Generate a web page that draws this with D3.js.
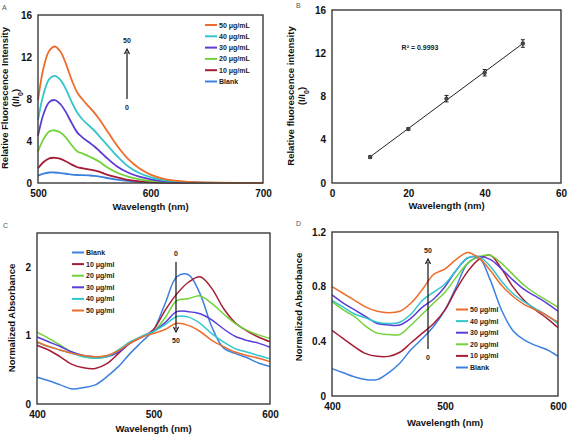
<!DOCTYPE html>
<html><head><meta charset="utf-8">
<script src="https://cdn.jsdelivr.net/npm/d3@7"></script>
<style>
body{margin:0;background:#fff;}
svg text{font-family:"Liberation Sans",Arial,sans-serif;}
</style></head>
<body><svg id="c" width="567" height="435"></svg>
<script>
// ---------- Panel A data ----------
const wlA = [500,505,510,515,520,525,530,535,540,545,550,555,560,570,580,590,600,610,620,640,660,680,700];
const A_blank = [0.7,0.9,1.0,1.0,0.95,0.88,0.8,0.76,0.75,0.72,0.68,0.6,0.5,0.33,0.2,0.12,0.07,0.04,0.02,0.01,0,0,0];
const A_10 = [1.4,2.0,2.35,2.4,2.3,2.05,1.75,1.5,1.4,1.3,1.2,1.05,0.85,0.55,0.3,0.15,0.08,0.04,0.02,0.01,0,0,0];
const A_20 = [3.0,4.2,4.9,5.0,4.8,4.3,3.6,3.0,2.8,2.55,2.3,2.0,1.6,1.0,0.6,0.35,0.2,0.1,0.06,0.02,0.01,0,0];
const A_30 = [4.5,6.6,7.7,7.9,7.5,6.7,5.7,4.8,4.3,3.9,3.5,3.0,2.5,1.6,1.0,0.6,0.35,0.2,0.1,0.03,0.01,0,0];
const A_40 = [6.0,8.5,9.9,10.2,9.8,8.9,7.7,6.7,6.0,5.5,5.0,4.4,3.8,2.6,1.6,0.95,0.55,0.3,0.17,0.05,0.02,0.01,0];
const A_50 = [7.9,11.0,12.6,13.0,12.5,11.3,9.8,8.6,7.9,7.3,6.7,6.0,5.2,3.6,2.3,1.4,0.8,0.45,0.25,0.08,0.03,0.01,0];
const A_labels = ["50 μg/mL","40 μg/mL","30 μg/mL","20 μg/mL","10 μg/mL","Blank"];

// ---------- Panel B data ----------
const B_conc = [10,20,30,40,50];
const B_val = [2.4,5.0,7.8,10.2,12.9];
const B_err = [0.1,0.1,0.3,0.3,0.35];
const B_r2 = "R² = 0.9993";

// ---------- Panel C data ----------
const wlCD = [400,410,420,430,440,450,460,470,480,490,500,510,520,530,540,550,560,570,580,590,600];
const C_blank = [0.39,0.34,0.28,0.22,0.24,0.28,0.40,0.55,0.74,0.91,1.08,1.47,1.86,1.89,1.61,1.13,0.82,0.74,0.68,0.60,0.55];
const C_10 = [0.86,0.79,0.69,0.58,0.53,0.52,0.59,0.74,0.89,0.98,1.09,1.37,1.61,1.78,1.86,1.69,1.40,1.19,1.07,0.98,0.91];
const C_20 = [1.05,0.96,0.86,0.76,0.69,0.67,0.69,0.79,0.89,0.98,1.06,1.26,1.51,1.54,1.58,1.47,1.32,1.18,1.08,1.01,0.96];
const C_30 = [0.98,0.91,0.84,0.76,0.71,0.69,0.69,0.76,0.89,0.98,1.06,1.19,1.35,1.35,1.32,1.23,1.10,0.99,0.93,0.89,0.83];
const C_40 = [0.90,0.84,0.79,0.74,0.69,0.67,0.69,0.79,0.91,0.99,1.06,1.16,1.28,1.27,1.18,1.03,0.91,0.81,0.76,0.71,0.66];
const C_50 = [0.91,0.84,0.79,0.74,0.71,0.69,0.71,0.78,0.89,0.98,1.03,1.09,1.18,1.15,1.06,0.93,0.84,0.76,0.71,0.67,0.62];
const C_labels = ["Blank","10 μg/ml","20 μg/ml","30 μg/ml","40 μg/ml","50 μg/ml"];

// ---------- Panel D data ----------
const D_blank = [0.20,0.17,0.14,0.12,0.12,0.17,0.24,0.34,0.42,0.51,0.63,0.80,0.97,1.01,0.85,0.63,0.48,0.41,0.37,0.34,0.29];
const D_10 = [0.48,0.42,0.36,0.31,0.29,0.29,0.32,0.39,0.46,0.53,0.63,0.78,0.91,1.00,1.03,0.93,0.80,0.70,0.63,0.57,0.50];
const D_20 = [0.69,0.63,0.58,0.51,0.46,0.45,0.45,0.52,0.60,0.68,0.76,0.87,0.97,1.02,1.03,0.97,0.89,0.81,0.75,0.70,0.65];
const D_30 = [0.74,0.68,0.63,0.58,0.53,0.52,0.52,0.57,0.65,0.71,0.80,0.92,1.01,1.02,1.00,0.93,0.85,0.78,0.73,0.68,0.62];
const D_40 = [0.70,0.65,0.60,0.57,0.54,0.53,0.54,0.60,0.70,0.76,0.82,0.92,1.01,1.02,0.95,0.84,0.75,0.69,0.64,0.59,0.53];
const D_50 = [0.80,0.75,0.70,0.65,0.62,0.61,0.62,0.68,0.78,0.89,0.93,1.00,1.05,1.01,0.92,0.81,0.73,0.67,0.63,0.59,0.54];
const D_labels = ["50 μg/ml","40 μg/ml","30 μg/ml","20 μg/ml","10 μg/ml","Blank"];

// colours
const col = {blank:"#3d80e0", c10:"#a61c35", c20:"#72d23a", c30:"#5c3cd6", c40:"#33c6cc", c50:"#ed6d2d"};

const svg = d3.select("#c");
const F = "Liberation Sans, Arial, sans-serif";

function frame(g, x, y){
  const [x0,x1]=x.range(), [y1,y0]=y.range();
  g.append("rect").attr("x",x0).attr("y",y0).attr("width",x1-x0).attr("height",y1-y0)
   .attr("fill","none").attr("stroke","#3a3a3a").attr("stroke-width",1.4);
}
function axes(g, x, y, xt, yt, yfmt){
  const ay = g.append("g").attr("transform",`translate(${x.range()[0]},0)`)
    .call(d3.axisLeft(y).tickValues(yt).tickSize(0).tickPadding(6).tickFormat(yfmt||d3.format("d")));
  const ax = g.append("g").attr("transform",`translate(0,${y.range()[0]})`)
    .call(d3.axisBottom(x).tickValues(xt).tickSize(0).tickPadding(7).tickFormat(d3.format("d")));
  [ax,ay].forEach(a=>{a.select(".domain").remove();
    a.selectAll("text").attr("font-size",10).attr("font-weight","bold").attr("fill","#111").attr("font-family",F);});
}
function xtitle(g, x, yPos, t){
  g.append("text").attr("x",(x.range()[0]+x.range()[1])/2).attr("y",yPos).attr("text-anchor","middle")
   .attr("font-size",9.5).attr("font-weight","bold").attr("fill","#111").text(t);
}
function ytitle(g, xPos, yc, t){
  return g.append("text").attr("transform",`translate(${xPos},${yc}) rotate(-90)`).attr("text-anchor","middle")
   .attr("font-size",9.5).attr("font-weight","bold").attr("fill","#111").text(t);
}
function ioLabel(g, xPos, yc){
  const t = g.append("text").attr("transform",`translate(${xPos},${yc}) rotate(-90)`).attr("text-anchor","middle")
   .attr("font-size",9.5).attr("font-weight","bold").attr("fill","#111");
  t.append("tspan").text("(I/I");
  t.append("tspan").attr("baseline-shift","sub").attr("font-size",7).text("0");
  t.append("tspan").text(")");
}
function panelLetter(x,y,t){
  svg.append("text").attr("x",x).attr("y",y).attr("font-size",7).attr("fill","#555").text(t);
}
function legend(g, x0, ys, labels, colors){
  labels.forEach((l,i)=>{
    g.append("line").attr("x1",x0).attr("x2",x0+12).attr("y1",ys[0]+i*ys[1]).attr("y2",ys[0]+i*ys[1])
     .attr("stroke",colors[i]).attr("stroke-width",2);
    g.append("text").attr("x",x0+14).attr("y",ys[0]+i*ys[1]+2.5).attr("font-size",7).attr("font-weight","bold")
     .attr("fill","#222").text(l);
  });
}
function arrow(g, x, yFrom, yTo, lblFrom, lblTo){
  const dir = yTo>yFrom?1:-1;
  g.append("line").attr("x1",x).attr("x2",x).attr("y1",yFrom).attr("y2",yTo-dir*3).attr("stroke","#111").attr("stroke-width",1.2);
  g.append("path").attr("d",`M${x-2.5},${yTo-dir*5}L${x},${yTo}L${x+2.5},${yTo-dir*5}`).attr("fill","none").attr("stroke","#111").attr("stroke-width",1.2);
  g.append("text").attr("x",x).attr("y",yFrom-dir*6+(dir>0?0:5)).attr("text-anchor","middle").attr("font-size",7).attr("font-weight","bold").attr("fill","#222").text(lblFrom);
  g.append("text").attr("x",x).attr("y",yTo+dir*9+(dir>0?2:3)).attr("text-anchor","middle").attr("font-size",7).attr("font-weight","bold").attr("fill","#222").text(lblTo);
}
function curves(g, x, y, wl, series, colors, w){
  const line = d3.line().x((d,i)=>x(wl[i])).y(d=>y(d)).curve(d3.curveCatmullRom);
  series.forEach((s,i)=>{
    g.append("path").attr("d",line(s)).attr("fill","none").attr("stroke",colors[i]).attr("stroke-width",w);
  });
}

// ---------- Panel A ----------
{
  const g = svg.append("g");
  const x = d3.scaleLinear().domain([500,700]).range([38,263]);
  const y = d3.scaleLinear().domain([0,16]).range([183,15]);
  curves(g,x,y,wlA,[A_blank,A_10,A_20,A_30,A_40,A_50],[col.blank,col.c10,col.c20,col.c30,col.c40,col.c50],1.8);
  frame(g,x,y);
  axes(g,x,y,[500,600,700],[0,4,8,12,16]);
  xtitle(g,x,210,"Wavelength (nm)");
  ytitle(g,8,98,"Relative Fluorescence Intensity");
  ioLabel(g,19,98);
  legend(g,205,[25,11.3],A_labels,[col.c50,col.c40,col.c30,col.c20,col.c10,col.blank]);
  arrow(g,127,99,49,"0","50");
  panelLetter(2,10,"A");
}
// ---------- Panel B ----------
{
  const g = svg.append("g");
  const x = d3.scaleLinear().domain([0,60]).range([332,561]);
  const y = d3.scaleLinear().domain([0,16]).range([183,10]);
  const n=B_conc.length, mx=d3.mean(B_conc), my=d3.mean(B_val);
  const slope=d3.sum(B_conc,(c,i)=>(c-mx)*(B_val[i]-my))/d3.sum(B_conc,c=>(c-mx)*(c-mx));
  const icpt=my-slope*mx;
  const xs=[B_conc[0],B_conc[n-1]];
  g.append("line").attr("x1",x(xs[0])).attr("x2",x(xs[1])).attr("y1",y(icpt+slope*xs[0])).attr("y2",y(icpt+slope*xs[1]))
   .attr("stroke","#222").attr("stroke-width",1);
  B_conc.forEach((c,i)=>{
    g.append("line").attr("x1",x(c)).attr("x2",x(c)).attr("y1",y(B_val[i]-B_err[i])).attr("y2",y(B_val[i]+B_err[i])).attr("stroke","#222");
    [B_val[i]-B_err[i],B_val[i]+B_err[i]].forEach(v=>g.append("line").attr("x1",x(c)-2).attr("x2",x(c)+2).attr("y1",y(v)).attr("y2",y(v)).attr("stroke","#222"));
    g.append("circle").attr("cx",x(c)).attr("cy",y(B_val[i])).attr("r",2.2).attr("fill","#444");
  });
  frame(g,x,y);
  axes(g,x,y,[0,20,40,60],[0,4,8,12,16]);
  xtitle(g,x,209,"Wavelength (nm)");
  ytitle(g,294,96,"Relative fluorescence intensity");
  ioLabel(g,305,96);
  g.append("text").attr("x",420).attr("y",50).attr("text-anchor","middle").attr("font-size",7).attr("font-weight","bold").attr("fill","#222").text(B_r2);
  panelLetter(296,8,"B");
}
// ---------- Panel C ----------
{
  const g = svg.append("g");
  const x = d3.scaleLinear().domain([400,600]).range([37,270]);
  const y = d3.scaleLinear().domain([0,2.5]).range([404,233]);
  curves(g,x,y,wlCD,[C_blank,C_10,C_20,C_30,C_40,C_50],[col.blank,col.c10,col.c20,col.c30,col.c40,col.c50],1.5);
  frame(g,x,y);
  axes(g,x,y,[400,500,600],[0,1,2]);
  xtitle(g,x,432,"Wavelength (nm)");
  ytitle(g,15,318,"Normalized Absorbance");
  legend(g,72,[252.5,11.6],C_labels,[col.blank,col.c10,col.c20,col.c30,col.c40,col.c50]);
  arrow(g,176,262,332,"0","50");
  panelLetter(3,228,"C");
}
// ---------- Panel D ----------
{
  const g = svg.append("g");
  const x = d3.scaleLinear().domain([400,600]).range([332,558]);
  const y = d3.scaleLinear().domain([0,1.2]).range([396,232]);
  curves(g,x,y,wlCD,[D_blank,D_10,D_20,D_30,D_40,D_50],[col.blank,col.c10,col.c20,col.c30,col.c40,col.c50],1.5);
  frame(g,x,y);
  axes(g,x,y,[400,500,600],[0,0.4,0.8,1.2],d=>d===0?"0":d3.format(".1f")(d));
  xtitle(g,x,426,"Wavelength (nm)");
  ytitle(g,302,307,"Normalized Absorbance");
  legend(g,456,[309.5,11.6],D_labels,[col.c50,col.c40,col.c30,col.c20,col.c10,col.blank]);
  arrow(g,428,349,259,"0","50");
  panelLetter(296,226,"D");
}
</script></body></html>
